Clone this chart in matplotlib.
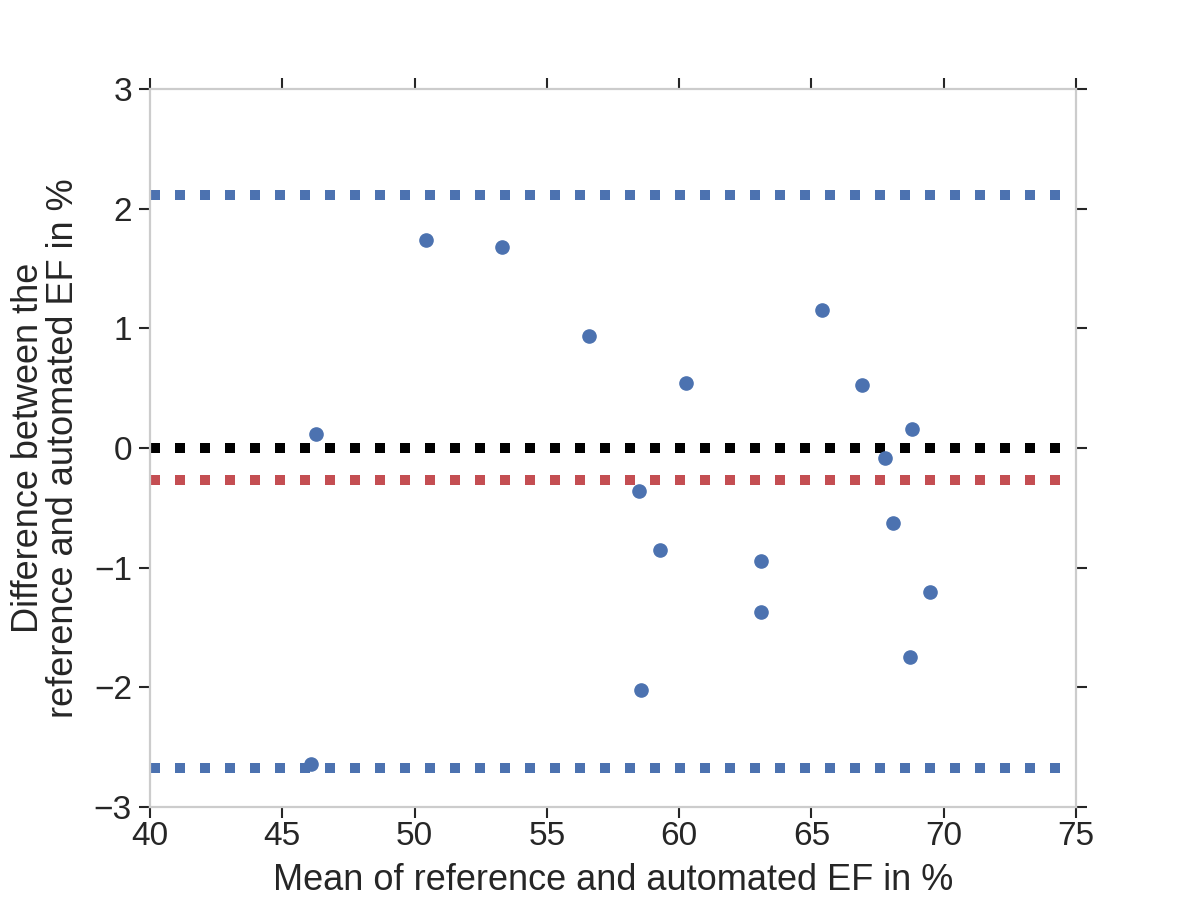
import numpy as np
import matplotlib
matplotlib.use("Agg")
import matplotlib.pyplot as plt

# Bland-Altman data
mean_ef = [46.27, 50.43, 53.30, 56.59, 60.26, 65.40, 66.91, 68.80, 67.78,
           58.48, 59.27, 63.09, 63.09, 68.08, 69.48, 68.72, 58.56, 46.08]
diff_ef = [0.12, 1.74, 1.68, 0.94, 0.54, 1.15, 0.53, 0.16, -0.08,
           -0.36, -0.85, -0.94, -1.37, -0.63, -1.20, -1.75, -2.02, -2.64]
upper_loa = 2.11
zero_line = 0.0
bias = -0.27
lower_loa = -2.67

blue = "#4C72B0"
red = "#C44E52"
dark = "#262626"

plt.rcParams['font.family'] = ['Liberation Sans', 'DejaVu Sans']

fig = plt.figure(figsize=(11.96, 8.97), dpi=100)
ax = fig.add_axes([0.1254, 0.1003, 0.7743, 0.8005])

xlim = (40, 75)
for yv, c in [(upper_loa, blue), (lower_loa, blue), (zero_line, "black"), (bias, red)]:
    ax.plot(xlim, [yv, yv], color=c, lw=7.2, dashes=(1, 1.5), zorder=2)
ax.plot(mean_ef, diff_ef, 'o', color=blue, ms=9.5, zorder=3)

ax.set_xlim(*xlim)
ax.set_ylim(-3, 3)
ax.set_xticks(np.arange(40, 76, 5))
ax.set_yticks(np.arange(-3, 4, 1))

for s in ax.spines.values():
    s.set_color("#cccccc")
    s.set_linewidth(1.6)

ax.tick_params(direction='out', length=8, width=1.5, color=dark, labelcolor=dark,
               labelsize=24, top=True, right=True)
ax.tick_params(axis='x', pad=2)
ax.tick_params(axis='y', pad=5)
ax.set_xlabel("Mean of reference and automated EF in %", fontsize=26, color=dark, labelpad=8)
ax.set_ylabel("Difference between the\nreference and automated EF in %", fontsize=26,
              color=dark, labelpad=9, linespacing=1.0)

fig.savefig("out.png", dpi=100)
